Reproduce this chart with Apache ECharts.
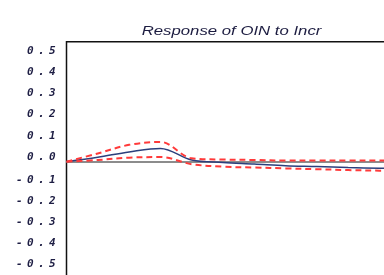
<!DOCTYPE html>
<html>
<head>
<meta charset="utf-8">
<script src="https://cdn.jsdelivr.net/npm/echarts@6/dist/echarts.min.js"></script>
<style>
  html, body { margin: 0; padding: 0; background: #fff; overflow: hidden; }
  /* the plot runs past the right and bottom edges, like the cropped original */
  #chart { width: 440px; height: 310px; }
</style>
</head>
<body>
<div id="chart"></div>
<script>
// periods 1..12, values
const periods = [1, 2, 3, 4, 5, 6, 7, 8, 9, 10, 11, 12]
const response = [0, 0.021, 0.046, 0.063, 0.008, -0.004, -0.011, -0.019, -0.023, -0.028, -0.031, -0.033]
const upperBand = [0, 0.039, 0.080, 0.094, 0.016, 0.010, 0.008, 0.005, 0.005, 0.005, 0.005, 0.005]
const lowerBand = [0, 0.008, 0.019, 0.022, -0.012, -0.024, -0.028, -0.032, -0.036, -0.040, -0.043, -0.044]
const titleText = 'Response of OIN to Incr'

const pair = arr => arr.map((v, i) => [periods[i], v])

// each character in its own fixed cell, like the wide mono labels of the original
const cells = v => v.toFixed(1).split('').map(c => '{c|' + c + '}').join('')
const labelStyle = {
  c: {
    width: 11, align: 'center', fontSize: 11,
    fontFamily: 'DejaVu Sans Mono', fontStyle: 'italic', fontWeight: 'bold',
    color: '#1e1e44'
  }
}

const yBase = {
  type: 'value', min: -0.6, max: 0.571, interval: 0.1,
  axisLine: { show: false }, axisTick: { show: false }, splitLine: { show: false }
}

const chart = echarts.init(document.getElementById('chart'))
chart.setOption({
  animation: false,
  grid: {
    left: 66.5, top: 41.7, width: 344.3, height: 246,
    show: true, borderColor: '#111', borderWidth: 1.5
  },
  xAxis: { type: 'value', min: 1, max: 12, show: false },
  yAxis: [
    Object.assign({}, yBase, {
      axisLabel: {
        margin: 8.8, padding: [0, 0, 10, 0], showMaxLabel: false, showMinLabel: false,
        formatter: v => v >= -0.0001 ? cells(Math.abs(v) < 1e-6 ? 0 : v) : '',
        rich: labelStyle
      }
    }),
    Object.assign({}, yBase, {
      position: 'left',
      axisLabel: {
        margin: 8.8, padding: [0, 0, 5, 0], showMaxLabel: false, showMinLabel: false,
        formatter: v => v < -0.0001 ? cells(v) : '',
        rich: labelStyle
      }
    })
  ],
  graphic: [{
    type: 'text', x: 141.7, y: 32, scaleX: 1.34,
    style: {
      text: titleText, fill: '#1c1c40',
      font: 'italic 12.5px "Liberation Sans"', align: 'left', verticalAlign: 'middle'
    }
  }],
  series: [
    {
      name: 'response', type: 'line', data: pair(response), smooth: 0.35,
      showSymbol: false, z: 3,
      lineStyle: { color: '#2b3f7c', width: 1.5 },
      markLine: {
        silent: true, symbol: 'none', label: { show: false },
        lineStyle: { color: '#8c8c8c', width: 2, type: 'solid' },
        data: [{ yAxis: 0 }], z: 1
      }
    },
    {
      name: 'upper', type: 'line', data: pair(upperBand), smooth: 0.35,
      showSymbol: false, z: 4,
      lineStyle: { color: '#ff3a3a', width: 2, type: [6, 4] }
    },
    {
      name: 'lower', type: 'line', data: pair(lowerBand), smooth: 0.35,
      showSymbol: false, z: 4,
      lineStyle: { color: '#ff3a3a', width: 2, type: [6, 4] }
    }
  ]
})
</script>
</body>
</html>
